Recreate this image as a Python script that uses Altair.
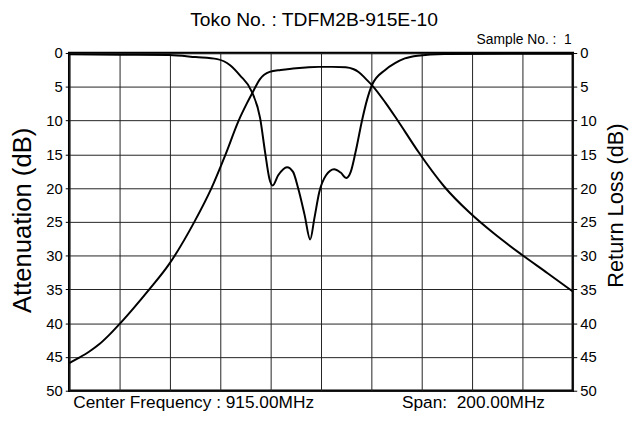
import altair as alt
import pandas as pd

FONT = "Liberation Sans"

# Attenuation curve (left axis)
att_freq = [815, 819, 823, 827, 831, 835.3, 840.5, 846.8, 854.6, 864.7, 871.5, 877.1, 882.3, 885.5,
            888.3, 890.7, 894.6, 899, 903.9, 909, 914.2, 919.5, 924.8, 928, 929.9, 932.6, 935.8,
            940.5, 944.4, 948.3, 953.8, 964, 974.2, 983.6, 994.5, 1005, 1015]
att_db = [45.9, 45.1, 44.2, 43.1, 41.7, 40, 37.8, 35, 31.3, 25, 20, 15, 10, 7.5,
          5.5, 3.9, 2.8, 2.5, 2.3, 2.15, 2.05, 2.05, 2.1, 2.4, 2.8, 3.75, 5,
          7.3, 9.4, 11.6, 14.7, 19.8, 23.7, 26.7, 29.8, 32.6, 35.3]

# Return loss curve (right axis)
rl_freq = [815, 835, 854.6, 865.2, 873.8, 878.9, 882.8, 887.5, 890.8, 892.8, 894.5, 895.8,
           898.0, 901.5, 903.9, 905.9, 908.5, 910.7, 912.4, 914.3, 917.0, 920.2, 922.8,
           925.1, 926.8, 928.7, 931.4, 933.3, 935.3, 940.5, 944.4, 948.3, 953.4, 964, 990, 1015]
rl_db = [0.2, 0.25, 0.3, 0.6, 0.9, 1.8, 3.3, 5.7, 9.6, 14.7, 18.6, 19.6,
         18.1, 16.9, 17.6, 20, 24, 27.6, 24.4, 20.6, 18.1, 17.2, 17.7,
         18.5, 17.6, 14.7, 9.8, 6.9, 4.7, 2.5, 1.5, 0.8, 0.4, 0.15, 0.1, 0.1]

grid_freq = [815, 835, 855, 875, 895, 915, 935, 955, 975, 995, 1015]
db_ticks = [0, 5, 10, 15, 20, 25, 30, 35, 40, 45, 50]

title_text = "Toko No. : TDFM2B-915E-10"
sample_text = "Sample No. : \u00a01"
center_text = "Center Frequency : 915.00MHz"
span_text = "Span: \u00a0200.00MHz"

att_df = pd.DataFrame({"freq": att_freq, "db": att_db})
rl_df = pd.DataFrame({"freq": rl_freq, "db": rl_db})

xenc = alt.X(
    "freq:Q",
    title=None,
    scale=alt.Scale(domain=[815, 1015], nice=False, zero=False),
    axis=alt.Axis(values=grid_freq, labels=False, ticks=False, domain=False,
                  grid=True, gridColor="#222", gridWidth=1, gridOpacity=1),
)

yscale = alt.Scale(domain=[0, 50], reverse=True, nice=False, zero=False)

att = alt.Chart(att_df).mark_line(color="black", strokeWidth=2, interpolate="monotone").encode(
    x=xenc,
    y=alt.Y("db:Q", scale=yscale,
            axis=alt.Axis(orient="left", values=db_ticks, title="Attenuation (dB)",
                          grid=True, gridColor="#222", gridWidth=1, gridOpacity=1,
                          domain=False, tickSize=4, tickColor="black", labelPadding=3,
                          labelFontSize=15, labelColor="black", labelFont=FONT,
                          titleFont=FONT, titleFontSize=26, titleFontWeight="normal",
                          titleColor="black", titleAngle=270, titleX=-34, titleY=169,
                          titleAlign="center", titleBaseline="bottom")),
)

rl = alt.Chart(rl_df).mark_line(color="black", strokeWidth=2, interpolate="monotone").encode(
    x=xenc,
    y=alt.Y("db:Q", scale=yscale,
            axis=alt.Axis(orient="right", values=db_ticks, title="Return Loss (dB)",
                          grid=False, domain=False, tickSize=4, tickColor="black",
                          labelPadding=3, labelFontSize=15, labelColor="black",
                          labelFont=FONT, titleFont=FONT, titleFontSize=22,
                          titleFontWeight="normal", titleColor="black", titleAngle=270,
                          titleX=55, titleY=154, titleAlign="center",
                          titleBaseline="bottom")),
)


def label(txt, x, y, size, align):
    return alt.Chart(pd.DataFrame({"t": [txt]})).mark_text(
        fontSize=size, align=align, baseline="alphabetic", font=FONT, color="black"
    ).encode(x=alt.value(x), y=alt.value(y), text="t:N")


t_title = label(title_text, 248, -27, 19.5, "center")
t_sample = label(sample_text, 509, -9, 14, "right")
t_center = label(center_text, 4, 359, 17.5, "left")
t_span = label(span_text, 337, 359, 17.5, "left")

chart = alt.layer(att, rl, t_title, t_sample, t_center, t_span).resolve_scale(
    y="independent"
).properties(
    width=510,
    height=342,
    autosize=alt.AutoSizeParams(type="none"),
    padding={"left": 62, "top": 43, "right": 63, "bottom": 23},
    background="white",
).configure_view(stroke="black", strokeWidth=2.5)

chart.save("out.html", embed_options={"renderer": "svg", "actions": False})
